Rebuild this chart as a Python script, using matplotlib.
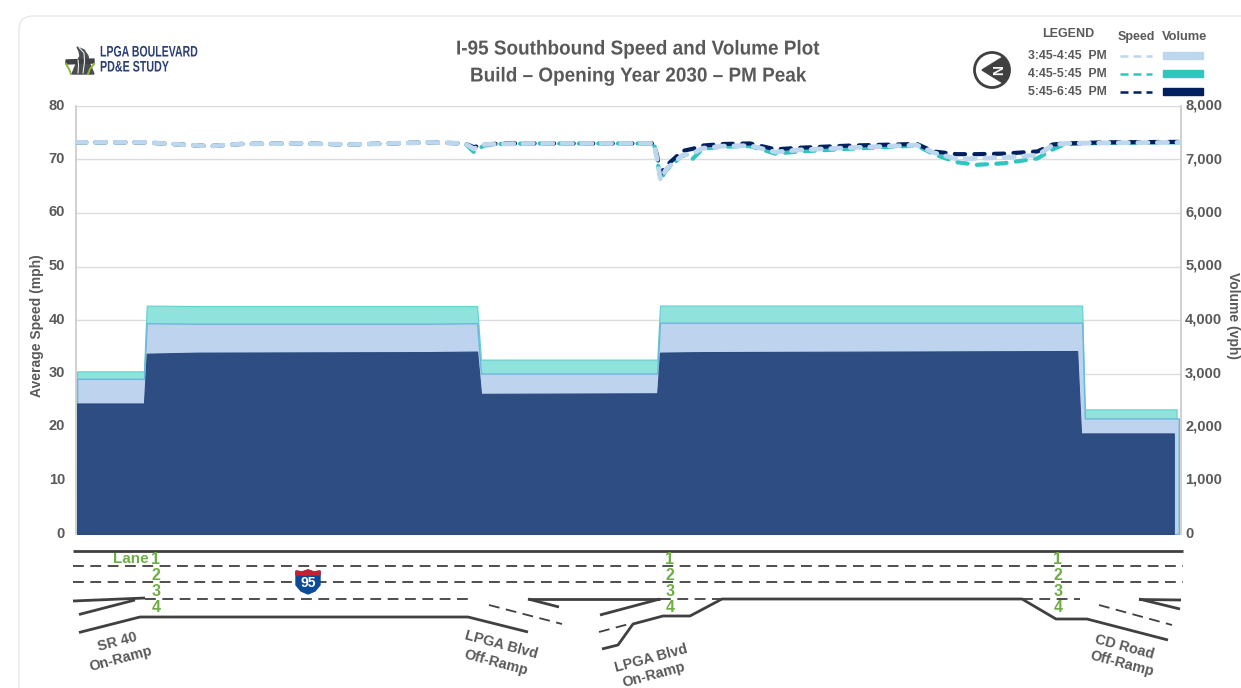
#!/usr/bin/env python3
"""I-95 southbound speed and volume plot, with the lane schematic underneath."""

import matplotlib
matplotlib.use("Agg")
import matplotlib.pyplot as plt
from matplotlib.patches import Circle, FancyBboxPatch, Polygon, Rectangle
from matplotlib.patheffects import AbstractPathEffect
from matplotlib.transforms import Affine2D, ScaledTranslation

# ── Data ──────────────────────────────────────────────────────────────────────
# x is the position along the corridor, 0-100 across the plot
SPEED_X = [0, 6.2, 9.5, 12.1, 14.9, 20.3, 24.8, 32, 35.2, 36, 36.9, 38.5, 41, 52.3, 52.6,
           52.9, 53.4, 54.9, 55.8, 56.7, 58.5, 61, 63.3, 65.5, 70, 76.1, 77.6, 79.7, 81.5, 84,
           87, 88.4, 89.5, 93, 100]
SPEED_LIGHT = [73.2, 73.2, 72.8, 72.5, 72.9, 73, 72.8, 73.2, 73, 72, 72.8, 72.9, 73, 73, 70,
               66.2, 68.2, 70.8, 71.1, 72.1, 72.5, 72.6, 71.4, 71.8, 72.2, 72.7, 71.3, 70.1, 70.2, 70.4,
               70.8, 72.7, 73, 73.1, 73.2]
SPEED_TEAL = [73.2, 73.2, 72.8, 72.5, 72.9, 73, 72.8, 73.2, 73, 71.4, 72.6, 72.9, 73, 73, 70,
              66.2, 68, 70.8, 70.1, 72, 72.4, 72.5, 71.1, 71.5, 72, 72.6, 71, 69.5, 69, 69.3,
              70.2, 71.9, 72.9, 73.1, 73.2]
SPEED_DARK = [73.2, 73.2, 72.8, 72.5, 72.9, 73, 72.8, 73.2, 73, 72.3, 72.8, 73, 73, 73, 70.6,
              67.2, 68.8, 71.6, 72, 72.6, 72.9, 73, 71.9, 72.2, 72.6, 72.9, 71.5, 71, 71, 71.1,
              71.5, 72.8, 73, 73.2, 73.3]

VOL_X_LIGHT = [0.1, 6.15, 6.4, 11, 31.7, 36.3, 36.65, 52.6, 52.85, 56.7, 91.05, 91.3, 99.8]
VOL_LIGHT = [2900, 2900, 3940, 3930, 3930, 3940, 3000, 3000, 3950, 3950, 3950, 2160, 2160]
VOL_X_TEAL = [0.1, 6.15, 6.4, 11, 31.7, 36.3, 36.65, 52.6, 52.85, 56.7, 91.05, 91.3, 99.6]
VOL_TEAL = [3040, 3040, 4270, 4260, 4260, 4260, 3260, 3260, 4270, 4270, 4270, 2330, 2330]
VOL_X_DARK = [0.1, 6.15, 6.4, 11, 31.7, 36.3, 36.65, 52.6, 52.85, 56.7, 90.6, 90.95, 99.35]
VOL_DARK = [2440, 2440, 3370, 3390, 3400, 3410, 2620, 2630, 3390, 3400, 3420, 1880, 1880]

SPEED_TICKS = [0, 10, 20, 30, 40, 50, 60, 70, 80]
VOLUME_TICKS = [0, 1000, 2000, 3000, 4000, 5000, 6000, 7000, 8000]
PERIODS = ["3:45-4:45  PM", "4:45-5:45  PM", "5:45-6:45  PM"]

# ── Style ─────────────────────────────────────────────────────────────────────
W, H = 1241, 688
GRAY = "#595959"
ROAD = "#404040"
GREEN = "#6FAD46"
NAVY = "#2B3F73"
GRID = "#DCDCDC"
AXIS = "#C8C8C8"
LINE_COLORS = ["#BDD7EE", "#2EC7C0", "#002060"]
SANS = "Liberation Sans"


class Squeeze(AbstractPathEffect):
    """Narrow the glyphs of a left-aligned text; no condensed font is installed."""

    def __init__(self, sx):
        super().__init__()
        self.sx = sx

    def draw_path(self, renderer, gc, tpath, affine, rgbFace=None):
        renderer.draw_path(gc, tpath, Affine2D().scale(self.sx, 1) + affine, rgbFace)


# ── Lane schematic, in picture pixels ─────────────────────────────────────────
SOLID_ROADS = [
    [(73, 551), (1183, 551)],
    [(73, 601), (145, 598)],
    [(79, 614.5), (135, 600)],
    [(79, 632.5), (140, 617), (468, 617), (528, 632)],
    [(528, 599), (559, 607)],
    [(528, 598.5), (660, 598.5)],
    [(600, 615), (660, 599)],
    [(602, 649), (618, 645), (633, 624), (663, 616), (690, 616), (722, 599), (1022, 599),
     (1056, 619), (1087, 619), (1168, 640)],
    [(1139, 599.5), (1181, 600)],
    [(1139, 599), (1180, 609)],
]
DASHED_ROADS = [
    [(73, 565.5), (1183, 565.5)],
    [(73, 582), (1183, 582)],
    [(145, 598.5), (473, 598.5)],
    [(660, 598.5), (722, 598.5)],
    [(1022, 598.5), (1080, 598.5)],
    [(489, 605), (562, 624)],
    [(599, 632), (629, 624)],
    [(1099, 605), (1172, 625)],
]
LANE_LABEL_X = [156, 670, 1058]
LANE_LABEL_Y = [559, 575, 591, 607]
RAMP_LABELS = [
    ("SR 40", 117, 642, 15), ("On-Ramp", 121, 659, 15),
    ("LPGA Blvd", 501, 645, -15), ("Off-Ramp", 496, 663, -15),
    ("LPGA Blvd", 651, 658, 15), ("On-Ramp", 654, 675, 15),
    ("CD Road", 1124, 647, -15), ("Off-Ramp", 1122, 664, -15),
]

# ── Figure ────────────────────────────────────────────────────────────────────
fig = plt.figure(figsize=(W / 100, H / 100), dpi=100, facecolor="white")
label_shift = ScaledTranslation(0, 2 / 100, fig.dpi_scale_trans)  # tick labels sit 2 px above the grid

card = fig.add_axes([0, 0, 1, 1], zorder=0)
card.set_xlim(0, W)
card.set_ylim(H, 0)
card.axis("off")
card.add_patch(FancyBboxPatch((31, 28), 1250, 700, boxstyle="round,pad=12,rounding_size=14",
                              facecolor="white", edgecolor="#E2E2E2", linewidth=0.8))

# ── Speed axis ────────────────────────────────────────────────────────────────
ax = fig.add_axes([76 / W, 1 - 534 / H, 1105 / W, 428 / H], zorder=1)
ax.set_facecolor("none")
ax.set_xlim(0, 100)
ax.set_ylim(0, 80)
ax.set_xticks([])
ax.set_yticks(SPEED_TICKS)
ax.tick_params(axis="y", length=0, pad=8, labelsize=10.5, labelcolor=GRAY)
for lab in ax.get_yticklabels():
    lab.set_fontfamily(SANS)
    lab.set_fontweight("bold")
    lab.set_transform(lab.get_transform() + label_shift)
ax.grid(axis="y", color=GRID, linewidth=1.0)
ax.set_axisbelow(True)
for side in ["top", "bottom"]:
    ax.spines[side].set_visible(False)
for side in ["left", "right"]:
    ax.spines[side].set_color(AXIS)
    ax.spines[side].set_linewidth(1.2)

for series, color, width, z in [(SPEED_TEAL, LINE_COLORS[1], 3.0, 3), (SPEED_DARK, LINE_COLORS[2], 3.0, 4),
                                (SPEED_LIGHT, LINE_COLORS[0], 3.4, 5)]:
    ax.plot(SPEED_X, series, color=color, linewidth=width, linestyle=(0, (2.3 * 3.2 / width, 2.1 * 3.2 / width)),
            dash_capstyle="round", dash_joinstyle="round", zorder=z)

# ── Volume axis ───────────────────────────────────────────────────────────────
ax2 = ax.twinx()
ax2.set_facecolor("none")
ax2.set_ylim(0, 8000)
ax2.set_yticks(VOLUME_TICKS)
ax2.set_yticklabels([f"{v:,}" for v in VOLUME_TICKS])
ax2.tick_params(axis="y", length=0, pad=3, labelsize=10.5, labelcolor=GRAY)
for lab in ax2.get_yticklabels():
    lab.set_fontfamily(SANS)
    lab.set_fontweight("bold")
    lab.set_transform(lab.get_transform() + label_shift)
for side in ["top", "bottom", "left", "right"]:
    ax2.spines[side].set_visible(False)

ax2.fill_between(VOL_X_TEAL, 0, VOL_TEAL, facecolor="#8FE3DC", edgecolor="#62D0CB", linewidth=0.8, zorder=2)
ax2.fill_between(VOL_X_LIGHT, 0, VOL_LIGHT, facecolor="#BDD3EE", edgecolor="#6DB5DC", linewidth=1.0, zorder=3)
ax2.fill_between(VOL_X_DARK, 0, VOL_DARK, facecolor="#2E4D82", edgecolor="#2A4A80", linewidth=0.8, zorder=4)

# ── Overlay: text, legend, logo, schematic ────────────────────────────────────
top = fig.add_axes([0, 0, 1, 1], zorder=5)
top.set_facecolor("none")
top.set_xlim(0, W)
top.set_ylim(H, 0)
top.axis("off")

top.text(456, 49, "I-95 Southbound Speed and Volume Plot", ha="left", va="center", fontsize=14.5,
         fontweight="bold", color=GRAY, family=SANS, path_effects=[Squeeze(0.94)])
top.text(470, 76, "Build – Opening Year 2030 – PM Peak", ha="left", va="center", fontsize=14.5,
         fontweight="bold", color=GRAY, family=SANS, path_effects=[Squeeze(0.94)])
top.text(37, 326, "Average Speed (mph)", rotation=90, ha="center", va="center",
         fontsize=10, fontweight="bold", color=GRAY, family=SANS)
top.text(1233, 316, "Volume (vph)", rotation=270, ha="center", va="center",
         fontsize=10, fontweight="bold", color=GRAY, family=SANS)

# logo
top.add_patch(Polygon([(77, 47), (84, 50), (88, 56), (89, 62), (94, 74), (72, 74), (77, 62),
                       (80, 56), (79, 51)], color="#4A4D50"))
top.add_patch(Polygon([(66, 60), (94, 59), (94, 63), (66, 64)], color="#3F4245"))
top.plot([79, 84, 84.5, 83], [47.5, 53, 62, 73], color="white", linewidth=0.7)
top.plot([78, 78.5, 78], [60, 65, 73], color="white", linewidth=0.7)
top.plot([66, 69, 71], [64, 69, 74], color="#8DB53C", linewidth=1.4)
top.plot([94, 90, 88], [64, 69, 74], color="#8DB53C", linewidth=1.4)
top.text(100, 52.5, "LPGA BOULEVARD", ha="left", va="center", fontsize=11,
         fontweight="bold", color=NAVY, family=SANS, path_effects=[Squeeze(0.69)])
top.text(100, 67.5, "PD&E STUDY", ha="left", va="center", fontsize=11,
         fontweight="bold", color=NAVY, family=SANS, path_effects=[Squeeze(0.70)])

# north arrow
top.add_patch(Circle((992, 70), 17.5, facecolor="white", edgecolor=ROAD, linewidth=2))
top.add_patch(Polygon([(982, 70), (1003, 57), (1009, 65), (1009, 75), (1003, 83)], color=ROAD))
top.text(999, 70.5, "N", rotation=90, ha="center", va="center", fontsize=10,
         fontweight="bold", color="white", family=SANS)

# legend
top.text(1068, 34, "LEGEND", ha="center", va="center", fontsize=9, fontweight="bold",
         color=GRAY, family=SANS)
top.text(1136, 37, "Speed", ha="center", va="center", fontsize=9, fontweight="bold",
         color=GRAY, family=SANS)
top.text(1185, 37, "Volume", ha="center", va="center", fontsize=9.3, fontweight="bold",
         color=GRAY, family=SANS)
for row_y, period, color in zip([55, 73, 91], PERIODS, LINE_COLORS):
    top.text(1107, row_y + 1, period, ha="right", va="center", fontsize=8.8, fontweight="bold",
             color=GRAY, family=SANS)
    top.plot([1120, 1152], [row_y + 1, row_y + 1], color=color, linewidth=1.8, linestyle=(0, (3.2, 2)))
    top.add_patch(Rectangle((1163, row_y - 3), 40, 7, color=color))

# lane schematic
for seg in SOLID_ROADS:
    top.plot(*zip(*seg), color=ROAD, linewidth=2.0, solid_capstyle="butt")
for seg in DASHED_ROADS:
    top.plot(*zip(*seg), color=ROAD, linewidth=1.3, linestyle=(0, (6, 3.6)))

for lane_x in LANE_LABEL_X:
    for num, lane_y in enumerate(LANE_LABEL_Y, start=1):
        top.text(lane_x, lane_y, str(num), ha="center", va="center", fontsize=11.5,
                 fontweight="bold", color=GREEN, family=SANS)
top.text(149, 559, "Lane", ha="right", va="center", fontsize=11, fontweight="bold",
         color=GREEN, family=SANS)
for label, lx, ly, rot in RAMP_LABELS:
    top.text(lx, ly, label, rotation=rot, rotation_mode="anchor", ha="center", va="center",
             fontsize=10.4, fontweight="bold", color=GRAY, family=SANS)

# I-95 shield
top.add_patch(Polygon([(296, 571), (302, 572), (308, 570), (314, 572), (320, 571), (320, 585),
                       (315, 591), (308, 594), (301, 591), (296, 585)], color="#0B4A96", zorder=6))
top.add_patch(Polygon([(296, 571), (302, 572), (308, 570), (314, 572), (320, 571), (320, 575),
                       (296, 575)], color="#C8202F", zorder=6))
top.text(308, 583, "95", ha="center", va="center", fontsize=10, fontweight="bold",
         color="white", family=SANS, zorder=7)

fig.savefig("out.png", dpi=100, facecolor="white")
